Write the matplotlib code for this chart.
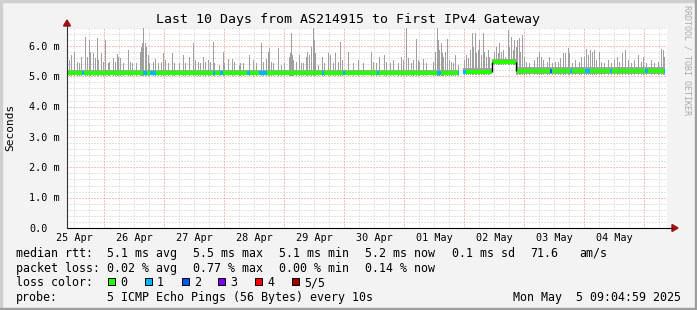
import matplotlib
matplotlib.use('Agg')
import matplotlib.pyplot as plt
from matplotlib.transforms import blended_transform_factory, offset_copy
from matplotlib.lines import Line2D
from matplotlib.patches import Rectangle, Polygon

# ---------------- data ----------------
title = "Last 10 Days from AS214915 to First IPv4 Gateway"
day_labels = ['25 Apr', '26 Apr', '27 Apr', '28 Apr', '29 Apr',
              '30 Apr', '01 May', '02 May', '03 May', '04 May']
start_hour_of_day = 9 + 5 / 60.0     # graph starts 25 Apr 09:05, spans 240 h
ytick_values = [0, 1, 2, 3, 4, 5, 6]
ytick_labels = ['0.0', '1.0 m', '2.0 m', '3.0 m', '4.0 m', '5.0 m', '6.0 m']

# median segments (hours from start, ms)
seg_start = [0.0, 158.4, 170.0, 179.4]
seg_end = [156.8, 170.0, 179.4, 239.3]
seg_median = [5.12, 5.15, 5.47, 5.16]
seg_smoke_lo = [5.06, 5.08, 5.42, 5.08]
seg_smoke_hi = [5.22, 5.27, 5.58, 5.30]

# smoke spikes (hour, max ms)
spike_h = [0.7, 1.6, 2.9, 3.9, 4.9, 5.6, 7.2, 7.9, 8.9, 9.3, 10.3, 11.1, 11.9, 12.5,
           13.6, 14.5, 15.2, 16.3, 16.9, 18.3, 19.1, 19.9, 20.4, 21.2, 22.3, 24.3,
           25.2, 26.0, 27.6, 29.2, 29.7, 30.1, 30.5, 31.1, 31.6, 32.3, 32.9, 34.3,
           35.3, 36.3, 37.6, 38.5, 39.2, 40.3, 42.0, 42.9, 44.9, 46.5, 47.3, 48.9,
           50.5, 51.3, 52.3, 53.2, 54.3, 55.3, 56.3, 57.2, 58.3, 58.9,
           60.7, 62.5, 62.9, 64.3, 66.0, 66.9, 68.7, 69.3, 70.3, 72.9, 74.3, 75.6,
           77.7, 78.3, 79.6, 80.3, 80.9, 81.6, 82.5, 84.4, 85.5, 86.9, 88.7, 89.2,
           89.6, 90.0, 90.5, 91.6, 92.7, 93.6, 94.5, 95.6, 96.1, 96.7, 97.5, 98.3,
           98.8, 99.3, 100.3, 102.0, 102.9, 104.3, 105.2, 106.3, 107.2, 108.3,
           109.2, 110.0, 112.3, 114.3, 116.3, 118.3,
           121.6, 122.5, 123.6, 124.9, 126.9, 127.6, 129.2, 130.3, 132.3, 133.6,
           134.5, 135.6, 136.3, 137.6, 138.3, 139.6, 140.3, 140.9, 142.3, 143.6,
           146.3, 147.2, 147.9, 148.4, 148.9, 149.5, 150.0, 150.5, 151.3, 151.9,
           152.7, 153.6, 154.5, 155.3, 156.3,
           158.9, 159.6, 160.3, 161.2, 162.0, 162.5, 163.1, 163.6, 164.4, 164.9,
           165.6, 166.3, 166.9, 167.6, 168.3, 168.9,
           170.9, 171.6, 172.3, 172.9, 173.6, 174.3, 175.3, 176.3, 176.9, 177.6,
           178.3, 178.9,
           179.6, 180.0, 180.7, 181.2, 182.0, 182.9, 183.6, 184.9, 186.9, 187.9,
           188.7, 189.6, 190.5, 191.9, 192.7, 194.0, 195.3, 196.3, 197.2, 198.3,
           199.3, 200.3, 200.9, 202.0, 203.3, 204.7, 205.6, 206.7, 207.6, 208.3,
           209.2, 210.0, 210.9, 211.6, 212.7, 213.6, 214.9, 216.3, 217.6, 218.9,
           219.9, 220.9, 222.0, 223.1, 224.3, 225.6, 226.9, 228.3, 229.6, 230.3,
           231.6, 233.6, 234.9, 236.3, 237.6, 238.3, 238.9]
spike_v = [5.54, 5.70, 5.81, 5.48, 5.43, 5.65, 6.31, 5.65, 6.20, 5.81, 5.76, 5.59, 6.25, 5.54,
           5.76, 5.48, 6.20, 5.45, 5.48, 5.59, 5.48, 5.73, 5.65, 5.59, 5.43, 5.87,
           5.48, 5.43, 5.43, 5.81, 5.98, 6.09, 6.64, 6.09, 5.98, 5.70, 5.43, 5.48,
           5.56, 5.43, 5.48, 5.76, 5.54, 5.43, 5.76, 5.43, 5.43, 5.70, 5.43, 5.65,
           6.11, 5.54, 5.48, 5.43, 5.65, 5.48, 5.54, 5.48, 6.14, 5.43,
           5.37, 5.81, 5.43, 5.56, 5.56, 5.48, 5.37, 5.45, 5.45, 5.70, 5.54, 5.43,
           6.11, 5.48, 5.56, 5.81, 5.92, 5.48, 5.43, 5.92, 5.37, 5.43, 5.65, 5.76,
           6.42, 5.70, 5.54, 5.48, 5.70, 5.43, 5.43, 5.65, 5.81, 5.70, 5.98, 6.62,
           6.20, 5.76, 5.37, 5.65, 5.43, 5.76, 5.70, 5.43, 5.76, 5.48,
           6.14, 5.54, 5.81, 5.43, 5.54, 5.43,
           5.81, 5.48, 5.43, 5.65, 5.70, 5.48, 5.43, 5.54, 5.43, 5.65,
           5.54, 6.62, 5.59, 5.43, 5.54, 6.22, 5.54, 5.48, 5.56, 5.43,
           5.48, 5.81, 6.64, 6.20, 5.87, 6.09, 5.76, 5.65, 5.81, 6.22,
           5.54, 5.48, 5.43, 5.70, 5.37,
           5.54, 5.70, 5.59, 5.87, 6.42, 5.98, 6.42, 5.76, 5.87, 6.20,
           5.70, 6.42, 5.81, 5.65, 5.87, 5.65,
           5.81, 5.98, 5.76, 6.09, 5.81, 5.87, 5.65, 6.53, 5.98, 6.31,
           5.87, 6.20,
           5.98, 6.20, 6.25, 5.81, 6.36, 5.65, 5.48, 5.43, 5.54, 5.65,
           5.81, 5.65, 5.54, 5.48, 5.65, 5.43, 5.48, 5.48, 5.59, 5.76,
           5.76, 5.92, 5.76, 5.43, 5.54, 5.48, 5.65, 5.65, 5.89, 5.70,
           5.87, 5.81, 5.87, 5.54, 5.81, 5.48, 5.43, 5.54, 5.43, 5.54,
           5.65, 5.48, 5.76, 5.87, 5.54, 5.43, 5.54, 5.70, 5.48, 5.65,
           5.43, 5.54, 5.43, 5.48, 5.89, 5.87, 5.65]

# packet loss marks on the median (hour start, hour end, lost pings)
loss_start = [6.0, 30.4, 33.2, 58.5, 61.2, 72.0, 76.8, 102.0, 110.4, 124.0, 148.0,
              156.2, 158.4, 193.0, 201.0, 207.2, 217.0, 231.2, 238.6]
loss_end = [6.8, 31.8, 35.4, 59.3, 62.4, 73.0, 79.8, 102.8, 111.2, 124.8, 149.4,
            156.8, 159.4, 193.8, 201.8, 209.2, 217.8, 232.2, 239.3]
loss_level = [1, 1, 1, 1, 1, 1, 1, 1, 1, 1, 1, 1, 1, 2, 1, 1, 1, 1, 1]
loss_colors = ['#26ff00', '#00b8ff', '#0059ff', '#7e00ff', '#ff0000', '#a10000']
loss_names = ['0', '1', '2', '3', '4', '5/5']

stats_rtt = ['5.1 ms avg', '5.5 ms max', '5.1 ms min', '5.2 ms now', '0.1 ms sd', '71.6', 'am/s']
stats_loss = ['0.02 % avg', '0.77 % max', '0.00 % min', '0.14 % now']
probe_text = '5 ICMP Echo Pings (56 Bytes) every 10s'
date_text = 'Mon May  5 09:04:59 2025'

# ---------------- figure ----------------
W, H = 697, 310
FONT = 'DejaVu Sans Mono'
fig = plt.figure(figsize=(W / 100, H / 100), dpi=100)
fig.patch.set_facecolor('#F3F3F3')


def fx(x):
    return x / W


def fy(y):
    return 1 - y / H


X0, X1, Y0 = 67, 667, 228
PXMS = 30.33
YMAX = 6.6
ax = fig.add_axes([fx(X0), fy(Y0), (X1 - X0) / W, YMAX * PXMS / H])
ax.set_xlim(0, 240)
ax.set_ylim(0, YMAX)
ax.set_facecolor('white')
for s in ax.spines.values():
    s.set_visible(False)
ax.set_xticks([])
ax.set_yticks([])

# grid
dot = (0, (1, 2))
minor_y = [i * 0.2 for i in range(1, 34) if i % 5 != 0]
ax.hlines(minor_y, 0, 240.5, colors='#C8C8C8', linewidth=0.72, linestyles=dot, zorder=1)
ax.hlines(ytick_values[1:], 0, 240.5, colors='#F08080', linewidth=0.72, linestyles=dot, zorder=1)
first_noon = 12 - start_hour_of_day
minor_x = [first_noon + 6 * k for k in range(40) if (k % 4) != 2]
major_x = [first_noon + 12 + 24 * k for k in range(10)]
ax.vlines([h for h in minor_x if h < 240], 0, YMAX, colors='#C8C8C8', linewidth=0.72,
          linestyles=dot, zorder=1)
ax.vlines([h for h in major_x if h < 240], 0, YMAX, colors='#F08080', linewidth=0.72,
          linestyles=dot, zorder=1)


def seg_index(h):
    for i in range(len(seg_start)):
        if seg_start[i] - 0.01 <= h <= seg_end[i] + 0.01:
            return i
    return 0


# smoke base band
for s, e, lo, hi in zip(seg_start, seg_end, seg_smoke_lo, seg_smoke_hi):
    ax.fill_between([s, e], [lo, lo], [hi, hi], color='#A4A4A4', linewidth=0, zorder=2)

# smoke spikes
spike_lo = [seg_smoke_lo[seg_index(h)] for h in spike_h]
ax.vlines(spike_h, spike_lo, spike_v, colors='#A0A0A0', linewidth=0.72, zorder=2,
          antialiased=False)

# median line
ax.hlines(seg_median, seg_start, seg_end, colors=loss_colors[0], linewidth=3.0, zorder=3)
for s, e, lv in zip(loss_start, loss_end, loss_level):
    m = seg_median[seg_index((s + e) / 2)]
    ax.hlines(m, s, e, colors=loss_colors[lv], linewidth=3.0, zorder=4)
# step connectors
ax.vlines([seg_start[2], seg_start[3]], [seg_median[1], seg_median[3]],
          [seg_median[2], seg_median[2]], colors='black', linewidth=1.0, zorder=5)

# axes lines with arrows
fig.add_artist(Line2D([fx(X0), fx(672)], [fy(Y0), fy(Y0)], color='black', linewidth=0.8))
fig.add_artist(Line2D([fx(X0), fx(X0)], [fy(Y0), fy(25)], color='#333333', linewidth=0.8))
fig.add_artist(Polygon([[fx(672), fy(Y0 - 3.5)], [fx(678), fy(Y0)], [fx(672), fy(Y0 + 3.5)]],
                       closed=True, color='#A01010', transform=fig.transFigure))
fig.add_artist(Polygon([[fx(X0 - 3.5), fy(26)], [fx(X0), fy(20)], [fx(X0 + 3.5), fy(26)]],
                       closed=True, color='#A01010', transform=fig.transFigure))

# tick labels
ytrans = offset_copy(blended_transform_factory(fig.transFigure, ax.transData),
                     fig=fig, y=-3.8, units='dots')
for v, lab in zip(ytick_values, ytick_labels):
    ax.text(fx(29), v, lab, transform=ytrans, ha='left', va='baseline',
            family=FONT, fontsize=7.3, color='black')
xtrans = blended_transform_factory(ax.transData, fig.transFigure)
for i, lab in enumerate(day_labels):
    ax.text(first_noon + 24 * i, fy(241), lab, transform=xtrans, ha='center',
            va='baseline', family=FONT, fontsize=7.3, color='black')

# title and labels
fig.text(fx(348), fy(23), title, ha='center', va='baseline', family=FONT,
         fontsize=9.5, color='black')
fig.text(fx(10.5), fy(127), 'Seconds', ha='center', va='center', rotation=90,
         family=FONT, fontsize=8, color='black')
fig.text(fx(687), fy(60), 'RRDTOOL / TOBI OETIKER', ha='center', va='center',
         rotation=270, family=FONT, fontsize=6, color='#AAAAAA')

# legend
LFS = 8.4
rows = [257, 272, 286, 301]
cols = [107, 193, 279, 365, 452, 530, 579]
fig.text(fx(16), fy(rows[0]), 'median rtt:', ha='left', va='baseline', family=FONT, fontsize=LFS)
for c, t in zip(cols, stats_rtt):
    fig.text(fx(c), fy(rows[0]), t, ha='left', va='baseline', family=FONT, fontsize=LFS)
fig.text(fx(16), fy(rows[1]), 'packet loss:', ha='left', va='baseline', family=FONT, fontsize=LFS)
for c, t in zip(cols, stats_loss):
    fig.text(fx(c), fy(rows[1]), t, ha='left', va='baseline', family=FONT, fontsize=LFS)
fig.text(fx(16), fy(rows[2]), 'loss color:', ha='left', va='baseline', family=FONT, fontsize=LFS)
box_x = [108, 145, 182, 218, 255, 292]
for bx, col, name in zip(box_x, loss_colors, loss_names):
    fig.add_artist(Rectangle((fx(bx), fy(284.5)), 7 / W, 7 / H, facecolor=col,
                             edgecolor='black', linewidth=0.7, transform=fig.transFigure))
    fig.text(fx(bx + 12), fy(rows[2]), name, ha='left', va='baseline', family=FONT, fontsize=LFS)
fig.text(fx(16), fy(rows[3]), 'probe:', ha='left', va='baseline', family=FONT, fontsize=LFS)
fig.text(fx(107), fy(rows[3]), probe_text, ha='left', va='baseline', family=FONT, fontsize=LFS)
fig.text(fx(681), fy(rows[3]), date_text, ha='right', va='baseline', family=FONT, fontsize=LFS)

# 3D frame
fig.add_artist(Rectangle((0, fy(2)), 1, 2 / H, color='#CFCFCF', transform=fig.transFigure))
fig.add_artist(Rectangle((0, 0), 2 / W, 1, color='#CFCFCF', transform=fig.transFigure))
fig.add_artist(Rectangle((0, 0), 1, 2 / H, color='#9E9E9E', transform=fig.transFigure))
fig.add_artist(Rectangle((fx(695), 0), 2 / W, 1, color='#9E9E9E', transform=fig.transFigure))

fig.savefig('out.png', dpi=100, facecolor=fig.get_facecolor())
